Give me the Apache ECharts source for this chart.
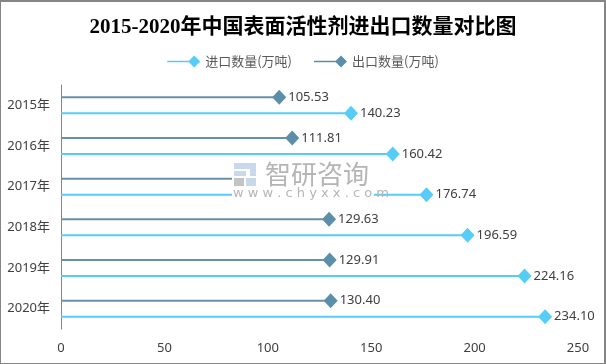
<!DOCTYPE html>
<html><head><meta charset="utf-8">
<script src="https://cdn.jsdelivr.net/npm/echarts@6/dist/echarts.min.js"></script>
<style>
html,body{margin:0;padding:0;background:#fff;}
#c{width:606px;height:364px;position:relative;}
#f{position:absolute;left:0;top:0;width:603px;height:361px;border-left:1px solid #858585;border-bottom:1px solid #858585;border-top:2px solid #858585;border-right:2px solid #858585;pointer-events:none;}
</style></head>
<body>
<div style="position:relative;width:606px;height:364px;">
<div id="c"></div><div id="f"></div>
</div>
<script>
const categories = ['2015年','2016年','2017年','2018年','2019年','2020年'];
const importValues = [140.23, 160.42, 176.74, 196.59, 224.16, 234.10];
const exportValues = [105.53, 111.81, 118.00, 129.63, 129.91, 130.40];
const xTicks = [0, 50, 100, 150, 200, 250];
const seriesNames = ['进口数量(万吨)', '出口数量(万吨)'];

const importColor = '#55cdf8';
const exportColor = '#5b8ea9';
const iconPath = 'path://M0 5.2 L22 5.2 L22 6.8 L0 6.8 Z M21 6 L27 0 L33 6 L27 12 Z';

const wm = (o) => Object.assign({z:100, zlevel:1}, o);

const chart = echarts.init(document.getElementById('c'), null, {renderer:'canvas'});
chart.setOption({
  animation:false,
  title:{text:'2015-2020年中国表面活性剂进出口数量对比图', left:'center', top:12,
    textStyle:{fontFamily:'"Liberation Serif","Noto Sans CJK SC"', fontWeight:'bold', fontSize:21, color:'#000'}},
  legend:{data:[{name:seriesNames[0], icon:iconPath, itemStyle:{color:importColor}},
                {name:seriesNames[1], icon:iconPath, itemStyle:{color:exportColor}}],
    top:50, left:'center', itemWidth:33, itemHeight:12, itemGap:22,
    textStyle:{fontSize:13, color:'#595959', fontFamily:'"Noto Sans CJK SC"'}},
  grid:{left:61, right:28, top:85, bottom:35, containLabel:false},
  xAxis:{type:'value', min:xTicks[0], max:xTicks[xTicks.length-1], interval:50,
    axisLine:{show:false}, axisTick:{show:false}, splitLine:{show:false},
    axisLabel:{fontSize:13, color:'#404040', margin:13, fontFamily:'"Noto Sans","DejaVu Sans"'}},
  yAxis:{type:'category', data:categories, inverse:true,
    axisLine:{show:true, lineStyle:{color:'#868686', width:1}}, axisTick:{show:false},
    axisLabel:{fontSize:13, color:'#404040', margin:11, fontFamily:'"Noto Sans","Noto Sans CJK SC"'}},
  series:[
    {name:'exp-line', type:'bar', data:exportValues, barWidth:2, barGap:'700%', itemStyle:{color:'#6a8fa8'}, silent:true},
    {name:'imp-line', type:'bar', data:importValues, barWidth:2, barGap:'700%', itemStyle:{color:importColor}, silent:true},
    {name:seriesNames[1], type:'scatter', data:exportValues.map((v,i)=>[v,i]), symbol:'diamond', symbolSize:[14,15], symbolOffset:[0,-8], z:5,
      itemStyle:{color:exportColor, opacity:1},
      label:{show:true, position:'right', distance:2, fontSize:13, color:'#404040', fontFamily:'"Noto Sans","DejaVu Sans"', formatter:p=>p.value[0].toFixed(2)}},
    {name:seriesNames[0], type:'scatter', data:importValues.map((v,i)=>[v,i]), symbol:'diamond', symbolSize:[14,15], symbolOffset:[0,8], z:5,
      itemStyle:{color:importColor, opacity:1},
      label:{show:true, position:'right', distance:2, fontSize:13, color:'#404040', fontFamily:'"Noto Sans","DejaVu Sans"', formatter:p=>p.value[0].toFixed(2)}}
  ],
  graphic:[wm({type:'group', left:232, top:160, children:[
    wm({type:'rect', shape:{x:0,y:0,width:142,height:40}, style:{fill:'#fff'}}),
    wm({type:'rect', shape:{x:2,y:3,width:22,height:6}, style:{fill:'#c9d9ec'}}),
    wm({type:'rect', shape:{x:18,y:3,width:6,height:13}, style:{fill:'#c9d9ec'}}),
    wm({type:'rect', shape:{x:2,y:11,width:12,height:5}, style:{fill:'#c9d9ec'}}),
    wm({type:'rect', shape:{x:2,y:18,width:10,height:8}, style:{fill:'#c4c4c4'}}),
    wm({type:'rect', shape:{x:14,y:18,width:10,height:8}, style:{fill:'#c9d9ec'}}),
    wm({type:'text', x:33, y:1, style:{text:'智研咨询', fontSize:26, fill:'#b5b5b5', fontFamily:'"Noto Sans CJK SC"'}}),
    wm({type:'text', x:1, y:27, style:{text:'w w w . c h y x x . c o m', fontSize:13, fill:'#b5b5b5', fontFamily:'"DejaVu Sans"'}})
  ]})]
});
</script>
</body></html>
